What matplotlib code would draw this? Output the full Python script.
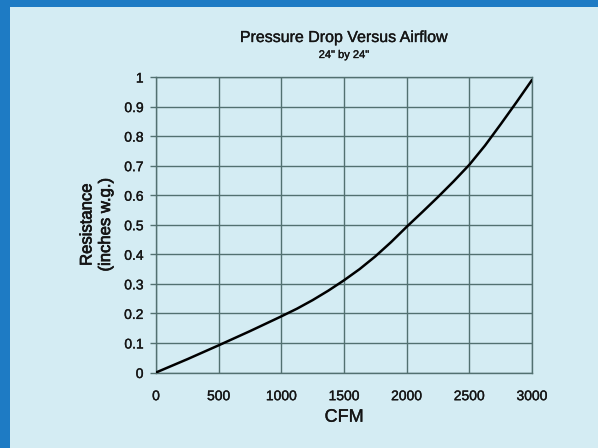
import matplotlib
matplotlib.use("Agg")
import matplotlib.pyplot as plt
import matplotlib.patheffects as pe
from matplotlib.patches import Rectangle

# airflow (CFM) and resistance (inches w.g.)
cfm = [0, 250, 500, 750, 1000, 1125, 1250, 1375, 1500, 1625, 1750, 1875, 2000,
       2125, 2250, 2375, 2500, 2625, 2750, 2875, 3000]
resistance = [0, 0.045, 0.092, 0.14, 0.19, 0.216, 0.245, 0.277, 0.312, 0.350, 0.393,
              0.441, 0.493, 0.543, 0.594, 0.647, 0.703, 0.768, 0.840, 0.914, 0.99]

x_ticks = [0, 500, 1000, 1500, 2000, 2500, 3000]
y_ticks = [0, 0.1, 0.2, 0.3, 0.4, 0.5, 0.6, 0.7, 0.8, 0.9, 1]
y_tick_labels = ["0", "0.1", "0.2", "0.3", "0.4", "0.5", "0.6", "0.7", "0.8", "0.9", "1"]

bg = "#d4ecf3"
border = "#1e7bc4"
grid_col = "#527070"
txt = "#151515"

plt.rcParams['font.family'] = ['Liberation Sans', 'DejaVu Sans']

# slightly heavier text, like the original rendering
heavy = [pe.withStroke(linewidth=0.25, foreground=txt)]

fig = plt.figure(figsize=(5.98, 4.48), dpi=100, facecolor=bg)

# blue frame on top and left edges
fig.patches.append(Rectangle((0, 1 - 7 / 448), 1, 7 / 448, transform=fig.transFigure,
                             facecolor=border, edgecolor="none", zorder=0))
fig.patches.append(Rectangle((0, 0), 10 / 598, 1, transform=fig.transFigure,
                             facecolor=border, edgecolor="none", zorder=0))

ax = fig.add_axes([156 / 598, 75.5 / 448, 376 / 598, 295.5 / 448])
ax.set_facecolor(bg)

ax.plot(cfm, resistance, color="black", linewidth=1.8, solid_capstyle="round",
        solid_joinstyle="round", zorder=3)

ax.set_xlim(0, 3000)
ax.set_ylim(0, 1)
ax.set_xticks(x_ticks)
ax.set_yticks(y_ticks)
ax.set_yticklabels(y_tick_labels)
ax.grid(True, color=grid_col, linewidth=1.0)
ax.set_axisbelow(True)
for s in ax.spines.values():
    s.set_color(grid_col)
    s.set_linewidth(1.0)

ax.tick_params(axis="y", length=4.5, width=1.0, color=grid_col, pad=4.5, labelsize=10, labelcolor=txt)
ax.tick_params(axis="x", length=0, pad=12, labelsize=10, labelcolor=txt)
for lab in ax.get_xticklabels() + ax.get_yticklabels():
    lab.set_path_effects(heavy)

ax.set_xlabel("CFM", fontsize=13, labelpad=4, color=txt, path_effects=heavy)
ax.set_ylabel("Resistance\n(inches w.g.)", fontsize=12, labelpad=8, color=txt,
              linespacing=1.3, path_effects=[pe.withStroke(linewidth=0.5, foreground=txt)])

fig.text(344 / 598, 1 - 37.5 / 448, "Pressure Drop Versus Airflow", fontsize=11.5,
         ha="center", va="center", color=txt, path_effects=heavy)
fig.text(344 / 598, 1 - 55 / 448, "24\" by 24\"", fontsize=8,
         ha="center", va="center", color=txt, path_effects=heavy)

fig.savefig("out.png", dpi=100, facecolor=bg)
